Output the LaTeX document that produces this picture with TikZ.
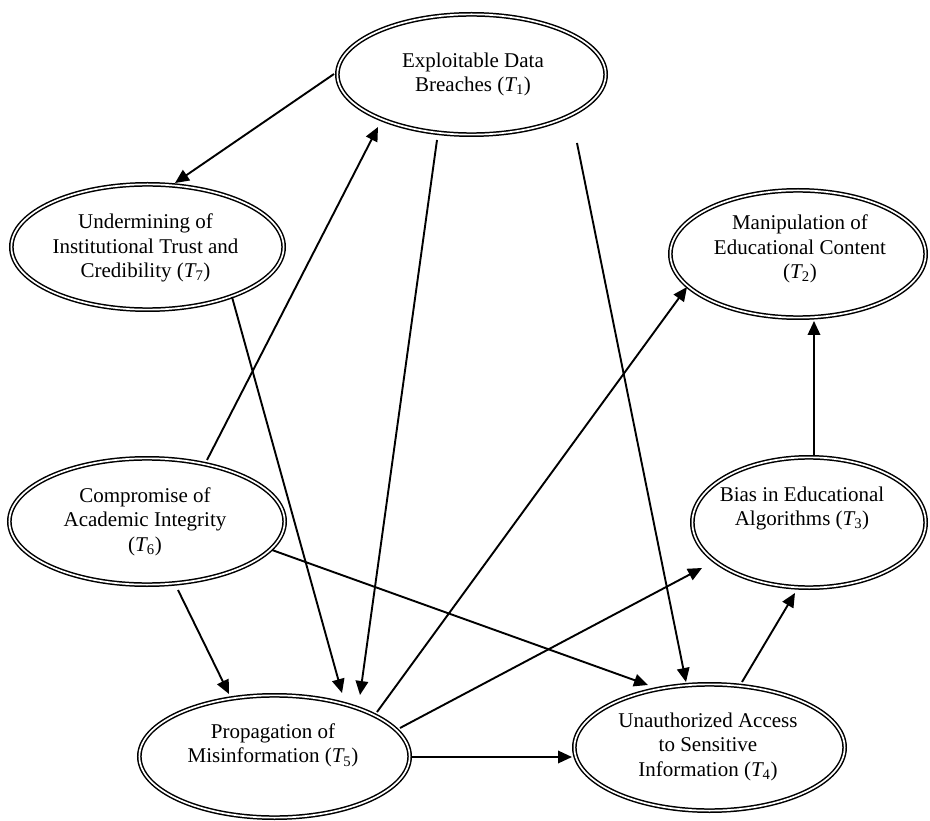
\documentclass[tikz,border=0pt]{standalone}
\usepackage{fontspec}
\setmainfont{Liberation Serif}
\usetikzlibrary{arrows.meta,shapes.geometric}
\tikzset{
  threat/.style={ellipse, draw=black, line width=1.5pt, double=white, double distance=1.7pt, inner sep=0pt},
  lbl/.style={align=center, inner sep=0pt, font=\fontsize{21}{24.5}\selectfont},
  arr/.style={line width=1.9pt, -{Triangle[length=14pt,width=12.5pt]}}
}
\newcommand{\tsub}[1]{({\itshape T}\textsubscript{#1})}
\begin{document}
\begin{tikzpicture}[x=1pt,y=-1pt]
\useasboundingbox (0,0) rectangle (930,821);
% ellipses
\node[threat, minimum width=268.3pt, minimum height=120.3pt] (t1) at (471.5,74.5) {};
\node[threat, minimum width=272.3pt, minimum height=125.3pt] (t7) at (147.5,247) {};
\node[threat, minimum width=255.3pt, minimum height=127.3pt] (t2) at (798,254) {};
\node[threat, minimum width=275.3pt, minimum height=126.3pt] (t6) at (147,521.5) {};
\node[threat, minimum width=233.3pt, minimum height=130.3pt] (t3) at (809,522.5) {};
\node[threat, minimum width=270.3pt, minimum height=122.3pt] (t5) at (274.5,756.5) {};
\node[threat, minimum width=270.3pt, minimum height=126.3pt] (t4) at (709.5,747.5) {};
% labels
\node[lbl] (l1) at ([shift={(1.5,0)}]t1.center) {Exploitable Data\\Breaches \tsub{1}};
\node[lbl] (l7) at ([shift={(-2,1)}]t7.center) {Undermining of\\Institutional Trust and\\Credibility \tsub{7}};
\node[lbl] (l2) at ([shift={(2,-5)}]t2.center) {Manipulation of\\Educational Content\\\tsub{2}};
\node[lbl] (l6) at ([shift={(-2,0)}]t6.center) {Compromise of\\Academic Integrity\\\tsub{6}};
\node[lbl] (l3) at ([shift={(-7,-14)}]t3.center) {Bias in Educational\\Algorithms \tsub{3}};
\node[lbl] (l5) at ([shift={(-1.5,-11)}]t5.center) {Propagation of\\Misinformation \tsub{5}};
\node[lbl] (l4) at ([shift={(-1.5,-1)}]t4.center) {Unauthorized Access\\to Sensitive\\Information \tsub{4}};
% connectors
\draw[arr] ([shift={(-137.5,-0.5)}]t1.center) -- ([shift={(27.5,-64)}]t7.center);
\draw[arr] ([shift={(60,-61.5)}]t6.center) -- ([shift={(-93.5,52.5)}]t1.center);
\draw[arr] ([shift={(-34.5,65.5)}]t1.center) -- ([shift={(85.5,-61.5)}]t5.center);
\draw[arr] ([shift={(84.5,50)}]t7.center) -- ([shift={(67.5,-63.5)}]t5.center);
\draw[arr] ([shift={(105.5,68.5)}]t1.center) -- ([shift={(-23.5,-65.5)}]t4.center);
\draw[arr] ([shift={(31,68.5)}]t6.center) -- ([shift={(-45.5,-62.5)}]t5.center);
\draw[arr] ([shift={(125,28.5)}]t6.center) -- ([shift={(-61.5,-62.5)}]t4.center);
\draw[arr] ([shift={(102.5,-44.5)}]t5.center) -- ([shift={(-111,33)}]t2.center);
\draw[arr] ([shift={(125.5,-28.5)}]t5.center) -- ([shift={(-107,45.5)}]t3.center);
\draw[arr] ([shift={(137.5,0.5)}]t5.center) -- ([shift={(-137.5,9.5)}]t4.center);
\draw[arr] ([shift={(32.5,-65.5)}]t4.center) -- ([shift={(-14,70.5)}]t3.center);
\draw[arr] ([shift={(5,-67.5)}]t3.center) -- ([shift={(16,67)}]t2.center);
\end{tikzpicture}
\end{document}
